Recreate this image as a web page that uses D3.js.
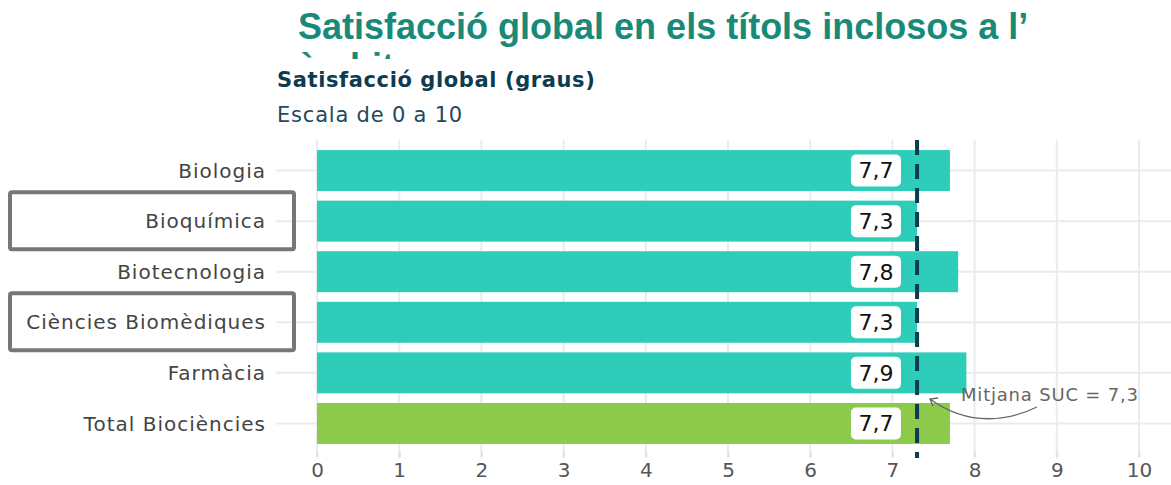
<!DOCTYPE html>
<html>
<head>
<meta charset="utf-8">
<script src="https://cdn.jsdelivr.net/npm/d3@7"></script>
<style>
body { margin: 0; background: #fff; }
svg { display: block; }
</style>
</head>
<body>
<svg id="chart"></svg>
<script>
var categories = ["Biologia", "Bioquímica", "Biotecnologia", "Ciències Biomèdiques", "Farmàcia", "Total Biociències"];
var values = [7.7, 7.3, 7.8, 7.3, 7.9, 7.7];
var labels = ["7,7", "7,3", "7,8", "7,3", "7,9", "7,7"];
var highlighted = ["Bioquímica", "Ciències Biomèdiques"];
var xTicks = [0, 1, 2, 3, 4, 5, 6, 7, 8, 9, 10];
var meanSUC = 7.3;
var labelPos = 6.8;

var width = 1171, height = 485;
var font = "'DejaVu Sans', 'Open Sans', sans-serif";

var svg = d3.select("#chart")
    .attr("width", width)
    .attr("height", height);

var xScale = d3.scaleLinear()
    .domain([0, 10])
    .range([317, 1139]);

var yScale = d3.scaleBand()
    .domain(categories)
    .range([145, 449])
    .paddingInner(0.19)
    .paddingOuter(0.1);

// grid
svg.append("g").selectAll("line.v")
    .data(xTicks)
    .enter().append("line")
    .attr("x1", function (d) { return xScale(d); })
    .attr("x2", function (d) { return xScale(d); })
    .attr("y1", 140)
    .attr("y2", 458)
    .attr("stroke", "#ebebeb")
    .attr("stroke-width", 2);

svg.append("g").selectAll("line.h")
    .data(categories)
    .enter().append("line")
    .attr("x1", 276)
    .attr("x2", width)
    .attr("y1", function (d) { return yScale(d) + yScale.bandwidth() / 2; })
    .attr("y2", function (d) { return yScale(d) + yScale.bandwidth() / 2; })
    .attr("stroke", "#ebebeb")
    .attr("stroke-width", 2);

// bars
svg.append("g").selectAll("rect")
    .data(categories)
    .enter().append("rect")
    .attr("x", xScale(0))
    .attr("y", function (d) { return yScale(d); })
    .attr("width", function (d, i) { return xScale(values[i]) - xScale(0); })
    .attr("height", yScale.bandwidth())
    .attr("fill", function (d, i) { return i == categories.length - 1 ? "#8dc94b" : "#2ecdb9"; });

// mean line
svg.append("line")
    .attr("x1", xScale(meanSUC))
    .attr("x2", xScale(meanSUC))
    .attr("y1", 140)
    .attr("y2", 458)
    .attr("stroke", "#0d3b4f")
    .attr("stroke-width", 4)
    .attr("stroke-dasharray", "15,9");

// value labels
var lab = svg.append("g").selectAll("g")
    .data(categories)
    .enter().append("g")
    .attr("transform", function (d) {
        return "translate(" + xScale(labelPos) + "," + (yScale(d) + yScale.bandwidth() / 2) + ")";
    });

lab.append("rect")
    .attr("x", -25)
    .attr("y", -16)
    .attr("width", 50)
    .attr("height", 32)
    .attr("rx", 5)
    .attr("fill", "#fff");

lab.append("text")
    .attr("text-anchor", "middle")
    .attr("dy", "0.36em")
    .style("font-family", font)
    .style("font-size", "22px")
    .attr("fill", "#111")
    .text(function (d, i) { return labels[i]; });

// axis
var xAxis = d3.axisBottom(xScale)
    .tickValues(xTicks)
    .tickSize(5)
    .tickPadding(6);

var gx = svg.append("g")
    .attr("transform", "translate(0,452)")
    .call(xAxis);
gx.select(".domain").remove();
gx.selectAll("line").attr("stroke", "#e0e0e0").attr("stroke-width", 2);
gx.selectAll("text")
    .style("font-family", font)
    .style("font-size", "20px")
    .attr("fill", "#555");

// category labels
svg.append("g").selectAll("text")
    .data(categories)
    .enter().append("text")
    .attr("x", 266)
    .attr("y", function (d) { return yScale(d) + yScale.bandwidth() / 2; })
    .attr("dy", "0.36em")
    .attr("text-anchor", "end")
    .style("font-family", font)
    .style("font-size", "20px")
    .style("letter-spacing", "1px")
    .attr("fill", "#444")
    .text(function (d) { return d; });

// highlight boxes
svg.append("g").selectAll("rect")
    .data(highlighted)
    .enter().append("rect")
    .attr("x", 10)
    .attr("y", function (d) { return yScale(d) + yScale.bandwidth() / 2 - 29; })
    .attr("width", 284)
    .attr("height", 57)
    .attr("rx", 2)
    .attr("fill", "none")
    .attr("stroke", "#777")
    .attr("stroke-width", 4);

// annotation
svg.append("text")
    .attr("x", 961)
    .attr("y", 401)
    .style("font-family", font)
    .style("font-size", "18px")
    .style("letter-spacing", "0.8px")
    .attr("fill", "#666")
    .text("Mitjana SUC = 7,3");

svg.append("path")
    .attr("d", "M1037,407 C1010,420 970,428 930,399")
    .attr("fill", "none")
    .attr("stroke", "#666")
    .attr("stroke-width", 1.3);
svg.append("path")
    .attr("d", "M938,398 L930,399 L933,406")
    .attr("fill", "none")
    .attr("stroke", "#666")
    .attr("stroke-width", 1.3);

// titles
var clip = svg.append("clipPath").attr("id", "titleclip");
clip.append("rect").attr("x", 0).attr("y", 0).attr("width", width).attr("height", 59);

svg.append("g").attr("clip-path", "url(#titleclip)")
    .append("text")
    .attr("x", 298)
    .attr("y", 39)
    .style("font-family", "'Liberation Sans', Arial, sans-serif")
    .style("font-size", "36px")
    .style("font-weight", "bold")
    .attr("fill", "#1a8a78")
    .selectAll("tspan")
    .data(["Satisfacció global en els títols inclosos a l’", "àmbit"])
    .enter().append("tspan")
    .attr("x", 298)
    .attr("dy", function (d, i) { return i == 0 ? 0 : 40; })
    .text(function (d) { return d; });

svg.append("text")
    .attr("x", 277)
    .attr("y", 87)
    .style("font-family", font)
    .style("font-size", "21px")
    .style("font-weight", "bold")
    .style("letter-spacing", "0.6px")
    .attr("fill", "#0d3b4f")
    .text("Satisfacció global (graus)");

svg.append("text")
    .attr("x", 277)
    .attr("y", 122)
    .style("font-family", font)
    .style("font-size", "21px")
    .style("letter-spacing", "0.8px")
    .attr("fill", "#1d4a5c")
    .text("Escala de 0 a 10");
</script>
</body>
</html>
